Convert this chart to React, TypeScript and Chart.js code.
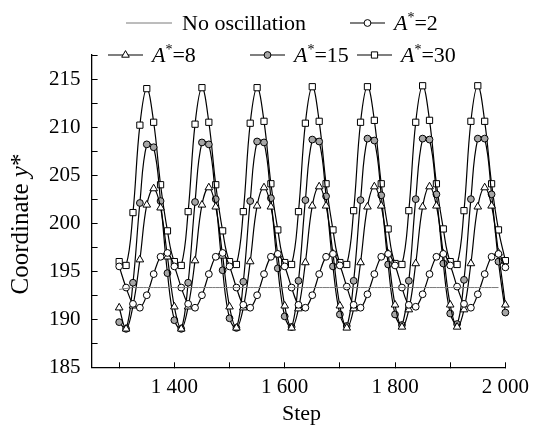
import { useEffect, useRef } from 'react';
import { Chart, registerables } from 'chart.js';

Chart.register(...registerables);

// ---- data ----
const STEPS = [
  1300, 1312.5, 1325, 1337.5, 1350, 1362.5, 1375, 1387.5,
  1400, 1412.5, 1425, 1437.5, 1450, 1462.5, 1475, 1487.5,
  1500, 1512.5, 1525, 1537.5, 1550, 1562.5, 1575, 1587.5,
  1600, 1612.5, 1625, 1637.5, 1650, 1662.5, 1675, 1687.5,
  1700, 1712.5, 1725, 1737.5, 1750, 1762.5, 1775, 1787.5,
  1800, 1812.5, 1825, 1837.5, 1850, 1862.5, 1875, 1887.5,
  1900, 1912.5, 1925, 1937.5, 1950, 1962.5, 1975, 1987.5,
  2000,
];

const NO_OSC = [
  193.1, 193.2, 193.3, 193.3, 193.3, 193.3, 193.3, 193.3,
  193.3, 193.3, 193.3, 193.3, 193.3, 193.3, 193.3, 193.3,
  193.3, 193.3, 193.3, 193.3, 193.3, 193.3, 193.3, 193.3,
  193.3, 193.3, 193.3, 193.3, 193.3, 193.3, 193.3, 193.3,
  193.3, 193.3, 193.3, 193.3, 193.3, 193.3, 193.3, 193.3,
  193.3, 193.3, 193.3, 193.3, 193.3, 193.3, 193.3, 193.3,
  193.3, 193.3, 193.3, 193.3, 193.3, 193.3, 193.3, 193.3,
  null,
];

const A2 = [
  195.5, 193.3, 191.6, 191.2, 192.5, 194.7, 196.5, 196.9,
  195.5, 193.3, 191.6, 191.2, 192.5, 194.7, 196.5, 196.9,
  195.5, 193.3, 191.5, 191.2, 192.5, 194.7, 196.5, 196.8,
  195.5, 193.3, 191.5, 191.2, 192.5, 194.7, 196.5, 196.8,
  195.6, 193.4, 191.5, 191.2, 192.6, 194.7, 196.5, 196.8,
  195.6, 193.3, 191.5, 191.3, 192.6, 194.7, 196.5, 196.8,
  195.6, 193.4, 191.6, 191.2, 192.6, 194.7, 196.5, 196.8,
  195.4,
];

const A8 = [
  191.2, 189.0, 191.4, 196.2, 201.9, 203.6, 201.6, 196.5,
  191.3, 189.0, 191.3, 196.1, 201.9, 203.7, 201.7, 196.6,
  191.3, 189.1, 191.2, 196.0, 201.8, 203.7, 201.7, 196.7,
  191.4, 189.1, 191.1, 195.9, 201.8, 203.8, 201.8, 196.8,
  191.4, 189.1, 191.1, 195.9, 201.7, 203.8, 201.8, 196.8,
  191.5, 189.2, 191.0, 195.8, 201.7, 203.8, 201.8, 196.8,
  191.5, 189.2, 191.0, 195.8, 201.7, 203.7, 201.8, 196.9,
  191.5,
];

const A15 = [
  189.7, 189.0, 193.8, 202.1, 208.2, 207.9, 202.3, 194.8,
  189.9, 189.0, 193.8, 202.2, 208.4, 208.2, 202.5, 195.1,
  190.1, 189.1, 193.9, 202.3, 208.5, 208.4, 202.6, 195.3,
  190.3, 189.2, 194.0, 202.4, 208.7, 208.5, 202.8, 195.5,
  190.5, 189.3, 194.0, 202.4, 208.8, 208.6, 202.9, 195.7,
  190.5, 189.4, 194.0, 202.5, 208.8, 208.7, 203.0, 195.8,
  190.6, 189.5, 194.1, 202.5, 208.8, 208.8, 203.0, 196.0,
  190.7,
];

const A30 = [
  196.0, 195.6, 201.1, 210.2, 214.0, 210.5, 204.0, 199.2,
  196.0, 195.6, 201.2, 210.3, 214.1, 210.5, 204.0, 199.2,
  196.0, 195.7, 201.2, 210.4, 214.1, 210.6, 204.1, 199.3,
  195.9, 195.7, 201.2, 210.4, 214.2, 210.6, 204.1, 199.3,
  195.9, 195.7, 201.3, 210.5, 214.2, 210.7, 204.1, 199.4,
  195.8, 195.7, 201.3, 210.5, 214.3, 210.7, 204.1, 199.4,
  196.0, 195.7, 201.3, 210.6, 214.3, 210.6, 204.1, 199.3,
  196.1,
];

const SERIES_LABELS = ['No oscillation', 'A*=2', 'A*=8', 'A*=15', 'A*=30'];

const X_TICKS = [1300, 1400, 1500, 1600, 1700, 1800, 1900, 2000];
const X_LABELS = [1400, 1600, 1800, 2000];
const Y_TICKS = [185, 187.5, 190, 192.5, 195, 197.5, 200, 202.5, 205, 207.5, 210, 212.5, 215, 217.5];
const Y_LABELS = [185, 190, 195, 200, 205, 210, 215];

const X_TITLE = 'Step';
const Y_TITLE_PARTS = [
  { t: 'Coordinate ', italic: false, sup: false },
  { t: 'y', italic: true, sup: false },
  { t: '*', italic: false, sup: false },
];

// ---- styles ----
const FONT = "'Liberation Serif', 'Times New Roman', Times, serif";
const W = 542;
const H = 426;

const LEGEND_LAYOUT = [
  { x: 126, y: 23, len: 46, textX: 182 },
  { x: 350, y: 23, len: 35, textX: 394 },
  { x: 108, y: 55, len: 35, textX: 152 },
  { x: 250, y: 55, len: 35, textX: 294 },
  { x: 357, y: 55, len: 35, textX: 401 },
];

function fmtThousands(v: number) {
  const th = Math.floor(v / 1000);
  const rest = String(v % 1000).padStart(3, '0');
  return th > 0 ? `${th} ${rest}` : String(v);
}

function labelParts(label: string) {
  const m = label.match(/^A\*(=.*)$/);
  if (!m) return [{ t: label, italic: false, sup: false }];
  return [
    { t: 'A', italic: true, sup: false },
    { t: '*', italic: false, sup: true },
    { t: m[1], italic: false, sup: false },
  ];
}

function drawParts(ctx: CanvasRenderingContext2D, parts: any[], x: number, baseline: number, size: number) {
  let cx = x;
  for (const p of parts) {
    const s = p.sup ? Math.round(size * 0.62) : size;
    ctx.font = `${p.italic ? 'italic ' : ''}${s}px ${FONT}`;
    ctx.fillText(p.t, cx, p.sup ? baseline - size * 0.36 : baseline);
    cx += ctx.measureText(p.t).width;
  }
  return cx - x;
}

function measureParts(ctx: CanvasRenderingContext2D, parts: any[], size: number) {
  let w = 0;
  for (const p of parts) {
    const s = p.sup ? Math.round(size * 0.62) : size;
    ctx.font = `${p.italic ? 'italic ' : ''}${s}px ${FONT}`;
    w += ctx.measureText(p.t).width;
  }
  return w;
}

function drawMarker(ctx: CanvasRenderingContext2D, style: string, x: number, y: number, r: number, fill: string) {
  ctx.beginPath();
  if (style === 'circle') {
    ctx.arc(x, y, r, 0, Math.PI * 2);
  } else if (style === 'rect') {
    const s = r * Math.SQRT1_2;
    ctx.rect(x - s, y - s, 2 * s, 2 * s);
  } else if (style === 'triangle') {
    for (let k = 0; k < 3; k++) {
      const a = (k * 2 * Math.PI) / 3;
      const px = x + Math.sin(a) * r;
      const py = y - Math.cos(a) * r;
      if (k === 0) ctx.moveTo(px, py);
      else ctx.lineTo(px, py);
    }
    ctx.closePath();
  }
  ctx.fillStyle = fill;
  ctx.fill();
  ctx.stroke();
}

const overlayPlugin = {
  id: 'overlay',
  afterDraw(chart: any) {
    const ctx: CanvasRenderingContext2D = chart.ctx;
    ctx.save();
    ctx.fillStyle = '#000';
    ctx.textBaseline = 'alphabetic';
    ctx.textAlign = 'left';

    // y axis title (rotated)
    const ySize = 25;
    ctx.save();
    ctx.translate(20, 224);
    ctx.rotate(-Math.PI / 2);
    const tw = measureParts(ctx, Y_TITLE_PARTS, ySize);
    ctx.fillStyle = '#000';
    drawParts(ctx, Y_TITLE_PARTS, -tw / 2, 8, ySize);
    ctx.restore();

    // x axis title
    const area = chart.chartArea;
    ctx.font = `22px ${FONT}`;
    ctx.textAlign = 'center';
    ctx.fillStyle = '#000';
    ctx.fillText(X_TITLE, (area.left + area.right) / 2 + 3, 420);
    ctx.textAlign = 'left';

    // legend
    chart.data.datasets.forEach((ds: any, i: number) => {
      const L = LEGEND_LAYOUT[i];
      ctx.strokeStyle = ds.borderColor;
      ctx.lineWidth = ds.borderWidth;
      ctx.beginPath();
      ctx.moveTo(L.x, L.y);
      ctx.lineTo(L.x + L.len, L.y);
      ctx.stroke();
      if (ds.pointRadius > 0) {
        ctx.strokeStyle = ds.pointBorderColor;
        ctx.lineWidth = ds.pointBorderWidth;
        drawMarker(ctx, ds.pointStyle, L.x + L.len / 2, L.y, ds.pointRadius, ds.pointBackgroundColor);
      }
      ctx.fillStyle = '#000';
      drawParts(ctx, labelParts(ds.label), L.textX, L.y + 7, 22);
    });
    ctx.restore();
  },
};

function series(values: (number | null)[]) {
  return STEPS.map((s, i) => ({ x: s, y: values[i] }));
}

export default function App() {
  const ref = useRef<HTMLCanvasElement | null>(null);

  useEffect(() => {
    document.body.style.margin = '0';
    const canvas = ref.current;
    if (!canvas) return;

    const common = {
      borderColor: '#000',
      borderWidth: 1.2,
      tension: 0.4,
      pointBorderColor: '#000',
      pointBorderWidth: 1,
      clip: false as const,
    };

    const chart = new Chart(canvas, {
      type: 'line',
      data: {
        datasets: [
          {
            label: SERIES_LABELS[0],
            data: series(NO_OSC),
            borderColor: '#7a7a7a',
            borderWidth: 1,
            tension: 0.4,
            pointRadius: 0,
            pointBorderColor: '#7a7a7a',
            pointBorderWidth: 0,
            pointBackgroundColor: '#7a7a7a',
            pointStyle: 'circle',
            clip: false as const,
          },
          {
            ...common,
            label: SERIES_LABELS[1],
            data: series(A2),
            pointStyle: 'circle',
            pointRadius: 3.4,
            pointBackgroundColor: '#fff',
          },
          {
            ...common,
            label: SERIES_LABELS[2],
            data: series(A8),
            pointStyle: 'triangle',
            pointRadius: 4.4,
            pointBackgroundColor: '#fff',
          },
          {
            ...common,
            label: SERIES_LABELS[3],
            data: series(A15),
            pointStyle: 'circle',
            pointRadius: 3.4,
            pointBackgroundColor: '#a6a6a6',
          },
          {
            ...common,
            label: SERIES_LABELS[4],
            data: series(A30),
            pointStyle: 'rect',
            pointRadius: 4.4,
            pointBackgroundColor: '#fff',
          },
        ],
      },
      options: {
        responsive: false,
        animation: false,
        events: [],
        layout: { padding: { left: 0, right: 28.7, top: 55, bottom: 0 } },
        plugins: {
          legend: { display: false },
          tooltip: { enabled: false },
          title: { display: false },
        },
        scales: {
          x: {
            type: 'linear',
            min: 1250,
            max: 2000,
            afterBuildTicks: (s: any) => {
              s.ticks = X_TICKS.map((v) => ({ value: v }));
            },
            afterFit: (s: any) => {
              s.height = 58.7;
            },
            grid: { drawOnChartArea: false, drawTicks: true, tickLength: -5, color: '#000', lineWidth: 1 },
            border: { display: true, color: '#000', width: 1.3 },
            ticks: {
              autoSkip: false,
              maxRotation: 0,
              minRotation: 0,
              padding: 13,
              color: '#000',
              font: { family: FONT, size: 21 },
              callback: (v: any) => (X_LABELS.includes(Number(v)) ? fmtThousands(Number(v)) : ''),
            },
          },
          y: {
            type: 'linear',
            min: 185,
            max: 217.5,
            afterBuildTicks: (s: any) => {
              s.ticks = Y_TICKS.map((v) => ({ value: v }));
            },
            afterFit: (s: any) => {
              s.width = 91.6;
            },
            grid: { drawOnChartArea: false, drawTicks: true, tickLength: -6, color: '#000', lineWidth: 1 },
            border: { display: true, color: '#000', width: 1.3 },
            ticks: {
              autoSkip: false,
              padding: 17,
              color: '#000',
              font: { family: FONT, size: 21 },
              callback: (v: any) => (Y_LABELS.includes(Number(v)) ? String(v) : ''),
            },
          },
        },
      },
      plugins: [overlayPlugin],
    } as any);

    return () => chart.destroy();
  }, []);

  return (
    <div style={{ width: W, height: H, background: '#fff' }}>
      <canvas ref={ref} width={W} height={H} style={{ display: 'block', width: W, height: H }} />
    </div>
  );
}
